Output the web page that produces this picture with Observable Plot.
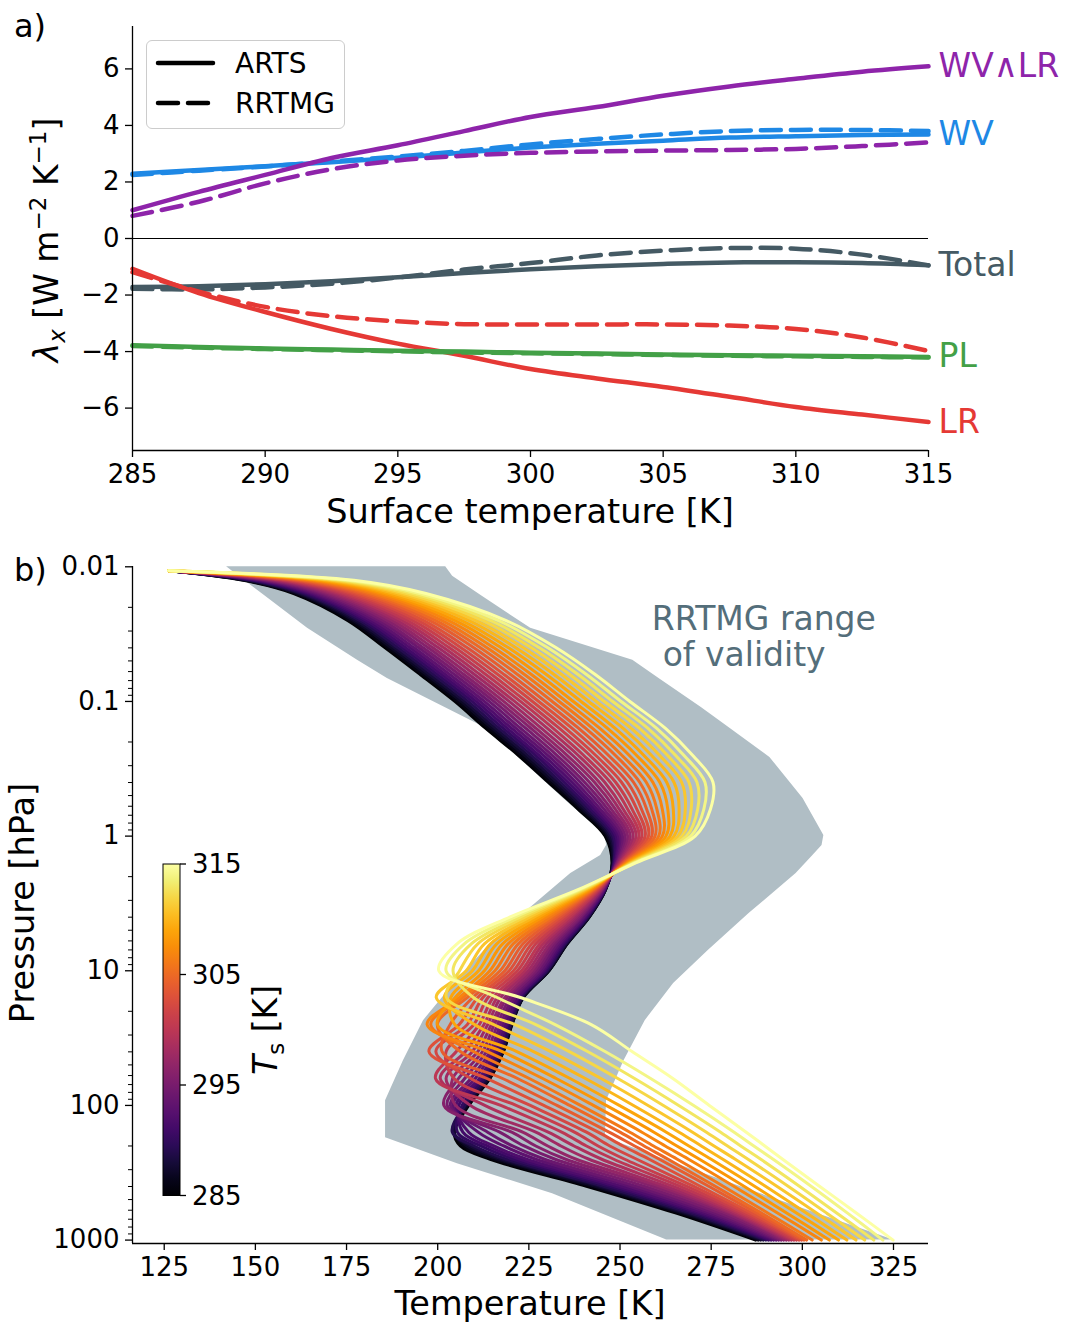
<!DOCTYPE html>
<html>
<head>
<meta charset="utf-8">
<script src="https://cdn.jsdelivr.net/npm/d3@7"></script>
<script src="https://cdn.jsdelivr.net/npm/@observablehq/plot@0.6"></script>
<style>
  html, body { margin: 0; padding: 0; background: #fff; }
  #fig { position: relative; width: 1065px; height: 1324px; font-family: "DejaVu Sans", sans-serif; }
  #panelA { position: absolute; left: 0; top: 0; }
  #panelB { position: absolute; left: 0; top: 540px; }
  #legendA { position: absolute; left: 146px; top: 40px; width: 197px; height: 87px;
             border: 1.3px solid #cccccc; border-radius: 6px; background: rgba(255,255,255,0.85); }
</style>
</head>
<body>
<div id="fig">
  <div id="panelA"></div>
  <div id="panelB"></div>
  <div id="legendA"></div>
</div>
<script>
// ---------------- Panel a: feedback parameters vs. surface temperature ----------------
const surfaceTemperature = [285, 287.5, 290, 292.5, 295, 297.5, 300, 302.5, 305, 307.5, 310, 312.5, 315];

const wvlrArts    = [1.00, 1.65, 2.25, 2.85, 3.30, 3.80, 4.30, 4.65, 5.05, 5.38, 5.65, 5.90, 6.09];
const wvlrRrtmg   = [0.80, 1.30, 1.95, 2.45, 2.76, 2.93, 3.03, 3.08, 3.11, 3.13, 3.17, 3.27, 3.40];
const wvArts      = [2.29, 2.42, 2.56, 2.70, 2.86, 3.04, 3.22, 3.35, 3.46, 3.57, 3.62, 3.66, 3.68];
const wvRrtmg     = [2.25, 2.40, 2.55, 2.72, 2.90, 3.10, 3.33, 3.52, 3.68, 3.80, 3.84, 3.84, 3.80];
const totalArts   = [-1.72, -1.69, -1.62, -1.51, -1.37, -1.22, -1.09, -0.98, -0.90, -0.85, -0.84, -0.87, -0.95];
const totalRrtmg  = [-1.78, -1.80, -1.73, -1.60, -1.38, -1.10, -0.87, -0.60, -0.43, -0.34, -0.36, -0.57, -0.95];
const plArts      = [-3.78, -3.84, -3.89, -3.93, -3.97, -4.00, -4.04, -4.07, -4.10, -4.13, -4.15, -4.17, -4.19];
const plRrtmg     = [-3.80, -3.86, -3.91, -3.95, -3.99, -4.03, -4.06, -4.09, -4.12, -4.15, -4.17, -4.19, -4.21];
const lrArts      = [-1.07, -1.93, -2.60, -3.20, -3.72, -4.15, -4.62, -4.95, -5.25, -5.60, -5.96, -6.23, -6.49];
const lrRrtmg     = [-1.19, -1.88, -2.42, -2.75, -2.93, -3.03, -3.04, -3.04, -3.04, -3.08, -3.20, -3.50, -3.98];

const feedbackNames  = ["Total", "WV", "LR", "PL", "WV∧LR"];
const feedbackColors = ["#455a64", "#1e88e5", "#e53935", "#43a047", "#8e24aa"];
const artsSeries  = [totalArts, wvArts, lrArts, plArts, wvlrArts];
const rrtmgSeries = [totalRrtmg, wvRrtmg, lrRrtmg, plRrtmg, wvlrRrtmg];

const modelNames = ["ARTS", "RRTMG"];
const xTicksA = [285, 290, 295, 300, 305, 310, 315];
const yTicksA = [-6, -4, -2, 0, 2, 4, 6];

const font = '"DejaVu Sans", sans-serif';
const dash = "20,10";
const labelSize = 33.5;

const rowsFor = (series, i) => surfaceTemperature.map((t, j) => ({name: feedbackNames[i], T: t, v: series[i][j]}));

const lineMarksA = feedbackNames.flatMap((name, i) => [
  Plot.line(rowsFor(artsSeries, i), {x: "T", y: "v", stroke: "name", strokeWidth: 4.5,
    curve: "catmull-rom", strokeLinecap: "round", strokeLinejoin: "round"}),
  Plot.line(rowsFor(rrtmgSeries, i), {x: "T", y: "v", stroke: "name", strokeWidth: 4.5,
    curve: "catmull-rom", strokeDasharray: dash, strokeLinecap: "round", strokeLinejoin: "round"})
]);

const last = surfaceTemperature.length - 1;
const endLabels = feedbackNames.map((name, i) => ({name, T: surfaceTemperature[last], v: artsSeries[i][last]}));

const plotA = Plot.plot({
  width: 1065, height: 540,
  marginTop: 26, marginRight: 137, marginBottom: 90, marginLeft: 132,
  style: {fontFamily: font, fontSize: "26px", color: "#000", background: "transparent", overflow: "visible"},
  x: {domain: [285, 315]},
  y: {domain: [-7.5, 7.5]},
  color: {domain: feedbackNames, range: feedbackColors},
  marks: [
    Plot.ruleY([0], {stroke: "#000", strokeWidth: 1.2}),
    ...lineMarksA,
    Plot.text(endLabels, {x: "T", y: "v", text: "name", fill: "name", dx: 10, textAnchor: "start", fontSize: 33}),
    Plot.axisX({ticks: xTicksA, tickSize: 7, tickPadding: 7, strokeWidth: 1.3, label: null, fontSize: 26}),
    Plot.axisY({ticks: yTicksA, tickSize: 7, tickPadding: 6, strokeWidth: 1.3, label: null, fontSize: 26}),
    Plot.ruleX([285], {stroke: "#000", strokeWidth: 1.3}),
    Plot.ruleY([-7.5], {stroke: "#000", strokeWidth: 1.3})
  ]
});
document.getElementById("panelA").append(plotA);

const svgA = d3.select(plotA);
svgA.append("text").attr("x", 14).attr("y", 37).attr("text-anchor", "start")
  .attr("font-size", 32).attr("fill", "#000").text("a)");
svgA.append("text").attr("x", 530).attr("y", 523).attr("text-anchor", "middle")
  .attr("font-size", labelSize).attr("fill", "#000").text("Surface temperature [K]");
{
  const t = svgA.append("text").attr("transform", "translate(58,240) rotate(-90)")
    .attr("text-anchor", "middle").attr("font-size", 33).attr("fill", "#000");
  t.append("tspan").attr("font-style", "italic").text("λ");
  t.append("tspan").attr("font-style", "italic").attr("font-size", 23).attr("dy", 7).text("x");
  t.append("tspan").attr("dy", -7).text(" [W m");
  t.append("tspan").attr("font-size", 23).attr("dy", -12).text("−2");
  t.append("tspan").attr("dy", 12).text(" K");
  t.append("tspan").attr("font-size", 23).attr("dy", -12).text("−1");
  t.append("tspan").attr("dy", 12).text("]");
}

// legend for the two radiative transfer models
{
  const lg = d3.select("#legendA").append("svg").attr("width", 197).attr("height", 87)
    .style("font-family", font);
  modelNames.forEach((m, i) => {
    const cy = 22 + i * 40;
    lg.append("line").attr("x1", 11).attr("x2", 66).attr("y1", cy).attr("y2", cy)
      .attr("stroke", "#000").attr("stroke-width", 4.5).attr("stroke-linecap", "round")
      .attr("stroke-dasharray", i === 0 ? null : dash);
    lg.append("text").attr("x", 88).attr("y", cy).attr("dy", "0.35em").attr("text-anchor", "start")
      .attr("font-size", 28).attr("fill", "#000").text(m);
  });
}

// ---------------- Panel b: temperature profiles ----------------
const surfaceTs = [285, 286, 287, 288, 289, 290, 291, 292, 293, 294, 295, 296, 297, 298, 299, 300,
                   301, 302, 303, 304, 305, 306, 307, 308, 309, 310, 311, 312, 313, 314, 315];

const pressureLevels = [0.0107, 0.0126, 0.0158, 0.0251, 0.0398, 0.0631, 0.1, 0.158, 0.251, 0.398, 0.631,
                        1, 1.58, 2.51, 3.98, 6.31, 10, 15.8, 25.1, 39.8, 63.1, 100, 158, 200, 251, 398, 631, 1000];

// one row per pressure level, one column per surface temperature (285 ... 315 K)
const profileTemperature = [
  [126.2,126.2,126.2,126.2,126.2,126.2,126.2,126.2,126.2,126.2,126.2,126.2,126.2,126.2,126.2,126.2,126.2,126.2,126.2,126.2,126.2,126.2,126.2,126.2,126.2,126.2,126.2,126.2,126.2,126.2,126.2],
  [146.7,147.2,147.8,148.4,149.0,149.6,150.3,151.1,151.8,152.6,153.4,154.3,155.2,156.1,157.1,158.1,159.1,160.2,161.2,162.4,163.5,164.7,166.0,167.2,168.5,169.9,171.2,172.6,174.0,175.5,177.0],
  [160.5,161.1,161.8,162.5,163.2,164.0,164.9,165.7,166.6,167.6,168.6,169.6,170.7,171.8,172.9,174.1,175.3,176.6,177.9,179.3,180.7,182.1,183.6,185.1,186.6,188.2,189.9,191.5,193.3,195.0,196.8],
  [175.4,176.1,177.0,177.8,178.7,179.6,180.6,181.6,182.7,183.9,185.0,186.3,187.6,188.9,190.3,191.7,193.2,194.7,196.2,197.9,199.5,201.2,203.0,204.8,206.6,208.6,210.5,212.5,214.6,216.7,218.8],
  [185.5,186.3,187.2,188.1,189.0,190.1,191.1,192.3,193.4,194.7,195.9,197.3,198.6,200.1,201.6,203.1,204.7,206.3,208.0,209.8,211.6,213.4,215.3,217.3,219.3,221.3,223.4,225.6,227.8,230.1,232.4],
  [195.2,196.0,196.9,197.8,198.8,199.9,201.0,202.1,203.3,204.6,205.9,207.2,208.6,210.1,211.6,213.2,214.8,216.5,218.2,220.0,221.9,223.8,225.7,227.7,229.8,231.9,234.0,236.2,238.5,240.8,243.2],
  [204.7,205.5,206.4,207.3,208.3,209.4,210.5,211.6,212.8,214.1,215.4,216.7,218.1,219.6,221.1,222.7,224.3,226.0,227.7,229.5,231.4,233.3,235.2,237.2,239.3,241.4,243.5,245.7,248.0,250.3,252.7],
  [213.1,214.0,214.9,215.8,216.8,217.9,219.0,220.2,221.4,222.7,224.1,225.5,226.9,228.4,230.0,231.6,233.3,235.0,236.8,238.6,240.5,242.4,244.4,246.5,248.6,250.8,253.0,255.3,257.6,260.0,262.4],
  [222.1,222.9,223.8,224.7,225.7,226.8,227.8,229.0,230.2,231.4,232.7,234.1,235.5,237.0,238.5,240.0,241.7,243.3,245.0,246.8,248.7,250.5,252.5,254.5,256.5,258.6,260.8,263.0,265.2,267.5,269.9],
  [230.3,231.1,231.9,232.8,233.7,234.7,235.7,236.8,237.9,239.1,240.3,241.6,243.0,244.3,245.8,247.3,248.8,250.4,252.0,253.7,255.4,257.2,259.0,260.9,262.8,264.8,266.9,268.9,271.1,273.3,275.5],
  [238.5,239.1,239.8,240.5,241.2,242.0,242.9,243.7,244.6,245.6,246.6,247.6,248.7,249.8,250.9,252.1,253.3,254.6,255.9,257.3,258.7,260.1,261.6,263.1,264.6,266.2,267.9,269.5,271.3,273.0,274.8],
  [245.9,246.3,246.8,247.3,247.8,248.3,248.9,249.5,250.1,250.7,251.4,252.1,252.8,253.6,254.4,255.2,256.0,256.9,257.8,258.7,259.6,260.6,261.6,262.6,263.7,264.8,265.9,267.0,268.2,269.4,270.6],
  [247.8,247.9,248.0,248.2,248.3,248.4,248.6,248.7,248.9,249.1,249.2,249.4,249.6,249.8,250.0,250.2,250.5,250.7,250.9,251.2,251.4,251.7,251.9,252.2,252.5,252.8,253.1,253.4,253.7,254.0,254.3],
  [246.0,246.0,246.0,245.9,245.9,245.8,245.7,245.6,245.5,245.3,245.1,245.0,244.8,244.6,244.3,244.1,243.8,243.5,243.2,242.9,242.6,242.2,241.9,241.5,241.1,240.7,240.2,239.8,239.3,238.8,238.3],
  [241.6,241.6,241.5,241.4,241.2,241.0,240.7,240.4,240.1,239.6,239.2,238.7,238.1,237.5,236.9,236.2,235.4,234.6,233.8,232.9,232.0,231.0,229.9,228.8,227.7,226.5,225.3,224.0,222.7,221.3,219.9],
  [235.5,235.5,235.4,235.2,235.0,234.7,234.3,233.9,233.4,232.8,232.1,231.4,230.7,229.8,228.9,228.0,226.9,225.8,224.6,223.4,222.1,220.7,219.3,217.8,216.2,214.5,212.8,211.0,209.2,207.3,205.3],
  [230.5,230.5,230.4,230.2,230.0,229.7,229.3,228.9,228.4,227.8,227.1,226.4,225.7,224.8,223.9,223.0,221.9,220.8,219.6,218.4,217.1,215.7,214.3,212.8,211.2,209.5,207.8,206.0,204.2,202.3,200.3],
  [223.4,223.5,223.4,223.2,223.0,222.7,222.3,222.0,221.3,220.7,219.9,219.0,218.4,217.3,216.3,215.2,213.8,212.4,211.0,209.6,208.1,206.9,205.9,204.8,203.6,201.8,199.6,202.4,209.8,216.3,222.7],
  [220.4,220.3,220.2,220.1,219.9,219.3,219.0,218.6,217.9,217.2,216.4,215.5,214.7,213.7,212.7,211.4,209.9,208.1,205.9,203.4,199.9,198.1,197.1,199.9,204.7,210.1,215.4,221.2,226.9,232.2,242.1],
  [218.0,218.0,217.9,217.5,217.3,216.8,216.4,215.8,215.1,214.4,213.4,212.3,211.0,209.5,207.6,205.1,202.3,199.5,197.6,201.2,206.2,209.8,213.6,217.7,221.7,226.3,231.0,236.1,241.1,245.9,253.3],
  [214.3,214.3,214.0,213.6,213.1,212.6,212.0,211.4,210.3,209.1,207.4,205.7,204.1,202.3,200.7,199.4,204.5,209.1,213.5,217.8,221.9,225.1,228.8,232.5,236.3,240.5,244.8,249.4,254.0,258.4,264.5],
  [208.5,208.3,208.0,207.6,207.4,206.7,205.8,205.0,204.2,203.5,202.6,201.7,204.9,209.0,212.9,217.3,221.5,225.4,229.1,232.7,236.2,239.2,242.7,246.2,249.8,253.7,257.7,261.9,266.1,270.2,274.5],
  [204.5,204.5,204.4,204.3,204.0,205.4,206.9,208.5,211.1,213.7,217.0,220.3,223.3,226.9,230.3,234.0,237.5,240.8,244.0,247.0,250.0,252.7,256.0,259.3,262.7,266.2,269.9,273.7,277.6,281.3,284.6],
  [206.2,207.1,208.0,209.0,210.0,211.8,213.6,215.4,218.1,220.5,223.7,226.9,230.2,233.8,237.4,240.8,244.0,247.2,250.8,254.0,256.6,259.2,262.4,265.6,268.9,272.3,275.8,279.5,283.1,286.7,289.7],
  [214.4,215.5,216.7,217.8,218.9,220.8,222.6,224.4,226.9,229.3,232.2,235.1,238.0,241.5,245.0,248.3,251.3,254.6,258.0,260.8,263.2,265.7,268.8,271.8,275.0,278.2,281.6,285.1,288.6,292.0,294.6],
  [240.8,242.0,243.2,244.4,245.5,247.2,248.8,250.4,252.5,254.4,256.6,258.9,260.9,262.5,264.4,266.3,268.2,270.1,272.0,274.3,276.1,278.3,281.2,284.0,286.9,289.9,293.0,296.1,299.2,302.4,304.7],
  [265.4,266.4,267.5,268.4,269.4,270.7,271.9,273.1,274.5,275.9,277.4,279.0,280.3,281.0,282.0,283.0,284.0,285.1,286.2,287.5,288.8,290.6,293.3,295.8,298.5,301.2,304.0,306.7,309.5,312.4,314.9],
  [287.2,287.9,288.6,289.3,290.0,290.7,291.4,292.1,292.8,293.5,294.2,294.9,295.6,296.3,297.0,297.7,298.4,299.1,299.8,300.5,301.2,302.7,305.2,307.4,309.9,312.2,314.7,317.1,319.6,322.1,324.9]
];

// RRTMG range of validity: cold and warm bound at each pressure
const validityPressure = [0.01, 0.01176, 0.01628, 0.02864, 0.04953, 0.0674, 0.1107, 0.1506, 0.2604, 0.5254, 0.9894,
                          1.174, 1.393, 1.896, 3.759, 7.08, 12.45, 23.46, 46.5, 92.2, 173.7, 271, 453, 1000];
const validityTmin = [142.1, 145.5, 152.4, 164.3, 178.0, 186.2, 202.0, 211.8, 222.2, 234.5, 246.0,
                      246.3, 244.7, 236.5, 223.6, 212.8, 204.5, 196.1, 190.6, 185.7, 185.7, 205.4, 231.5, 262.8];
const validityTmax = [202.2, 204.1, 211.8, 225.5, 253.5, 260.7, 272.3, 279.1, 291.1, 300.2, 305.9,
                      305.4, 302.9, 298.3, 285.4, 274.2, 264.7, 256.9, 251.1, 246.3, 246.0, 265.4, 288.6, 325.0];

const xTicksB = [125, 150, 175, 200, 225, 250, 275, 300, 325];
const yTicksB = [0.01, 0.1, 1, 10, 100, 1000];
const yTickLabelsB = ["0.01", "0.1", "1", "10", "100", "1000"];
const minorTicksB = [2, 3, 4, 5, 6, 7, 8, 9].flatMap(m => [0.01, 0.1, 1, 10, 100].map(d => +(m * d).toPrecision(3)));
const colorbarTicks = [285, 295, 305, 315];

const profileRows = surfaceTs.flatMap((ts, j) =>
  pressureLevels.map((p, i) => ({Ts: ts, p, T: profileTemperature[i][j]})));
const validityRows = validityPressure.map((p, i) => ({p, tmin: validityTmin[i], tmax: validityTmax[i]}));

const plotB = Plot.plot({
  width: 1065, height: 784,
  marginTop: 26, marginRight: 137, marginBottom: 81, marginLeft: 132,
  style: {fontFamily: font, fontSize: "26px", color: "#000", background: "transparent", overflow: "visible"},
  x: {domain: [116.3, 334.6]},
  y: {type: "log", domain: [0.00995, 1060], reverse: true},
  color: {type: "linear", scheme: "inferno", domain: [285, 315]},
  marks: [
    Plot.areaX(validityRows, {y: "p", x1: "tmin", x2: "tmax", fill: "#b0bec5"}),
    Plot.line(profileRows, {x: "T", y: "p", z: "Ts", stroke: "Ts", strokeWidth: 3,
      curve: "catmull-rom", strokeLinecap: "round", strokeLinejoin: "round"}),
    Plot.text(["RRTMG range"], {x: 258.7, y: 0.0246, text: d => d, textAnchor: "start", fill: "#546e7a", fontSize: 33}),
    Plot.text(["of validity"], {x: 261.7, y: 0.0456, text: d => d, textAnchor: "start", fill: "#546e7a", fontSize: 33}),
    Plot.axisX({ticks: xTicksB, tickSize: 7, tickPadding: 7, strokeWidth: 1.3, label: null, fontSize: 26}),
    Plot.axisY({ticks: yTicksB, tickFormat: d => yTickLabelsB[yTicksB.indexOf(d)], tickSize: 7, tickPadding: 6,
      strokeWidth: 1.3, label: null, fontSize: 26}),
    Plot.axisY({ticks: minorTicksB, tickFormat: () => "", tickSize: 4, strokeWidth: 1, label: null}),
    Plot.ruleX([116.3], {stroke: "#000", strokeWidth: 1.3}),
    Plot.ruleY([1060], {stroke: "#000", strokeWidth: 1.3})
  ]
});
document.getElementById("panelB").append(plotB);

const svgB = d3.select(plotB);
svgB.append("text").attr("x", 14).attr("y", 41).attr("text-anchor", "start")
  .attr("font-size", 32).attr("fill", "#000").text("b)");
svgB.append("text").attr("x", 530).attr("y", 775).attr("text-anchor", "middle")
  .attr("font-size", labelSize).attr("fill", "#000").text("Temperature [K]");
svgB.append("text").attr("transform", "translate(34,363) rotate(-90)").attr("text-anchor", "middle")
  .attr("font-size", labelSize).attr("fill", "#000").text("Pressure [hPa]");

// colour bar for the surface temperature of each profile
{
  const cbX = 163, cbW = 17, cbTop = 324, cbBottom = 655.5;
  const cb = d3.scaleLinear().domain([285, 315]).range([cbBottom, cbTop]);
  const grad = svgB.append("defs").append("linearGradient").attr("id", "tsGradient")
    .attr("x1", 0).attr("y1", 1).attr("x2", 0).attr("y2", 0);
  d3.range(0, 1.0001, 0.05).forEach(t =>
    grad.append("stop").attr("offset", t).attr("stop-color", d3.interpolateInferno(t)));
  const g = svgB.append("g");
  g.append("rect").attr("x", cbX).attr("y", cbTop).attr("width", cbW).attr("height", cbBottom - cbTop)
    .attr("fill", "url(#tsGradient)").attr("stroke", "#000").attr("stroke-width", 1);
  colorbarTicks.forEach(v => {
    g.append("line").attr("x1", cbX + cbW).attr("x2", cbX + cbW + 6).attr("y1", cb(v)).attr("y2", cb(v))
      .attr("stroke", "#000").attr("stroke-width", 1.3);
    g.append("text").attr("x", cbX + cbW + 12).attr("y", cb(v)).attr("dy", "0.36em")
      .attr("text-anchor", "start").attr("font-size", 26).attr("fill", "#000").text(v);
  });
  const lab = g.append("text").attr("transform", "translate(277,490) rotate(-90)")
    .attr("text-anchor", "middle").attr("font-size", 33).attr("fill", "#000");
  lab.append("tspan").attr("font-style", "italic").text("T");
  lab.append("tspan").attr("font-size", 23).attr("dy", 7).text("s");
  lab.append("tspan").attr("dy", -7).text(" [K]");
}
</script>
</body>
</html>
